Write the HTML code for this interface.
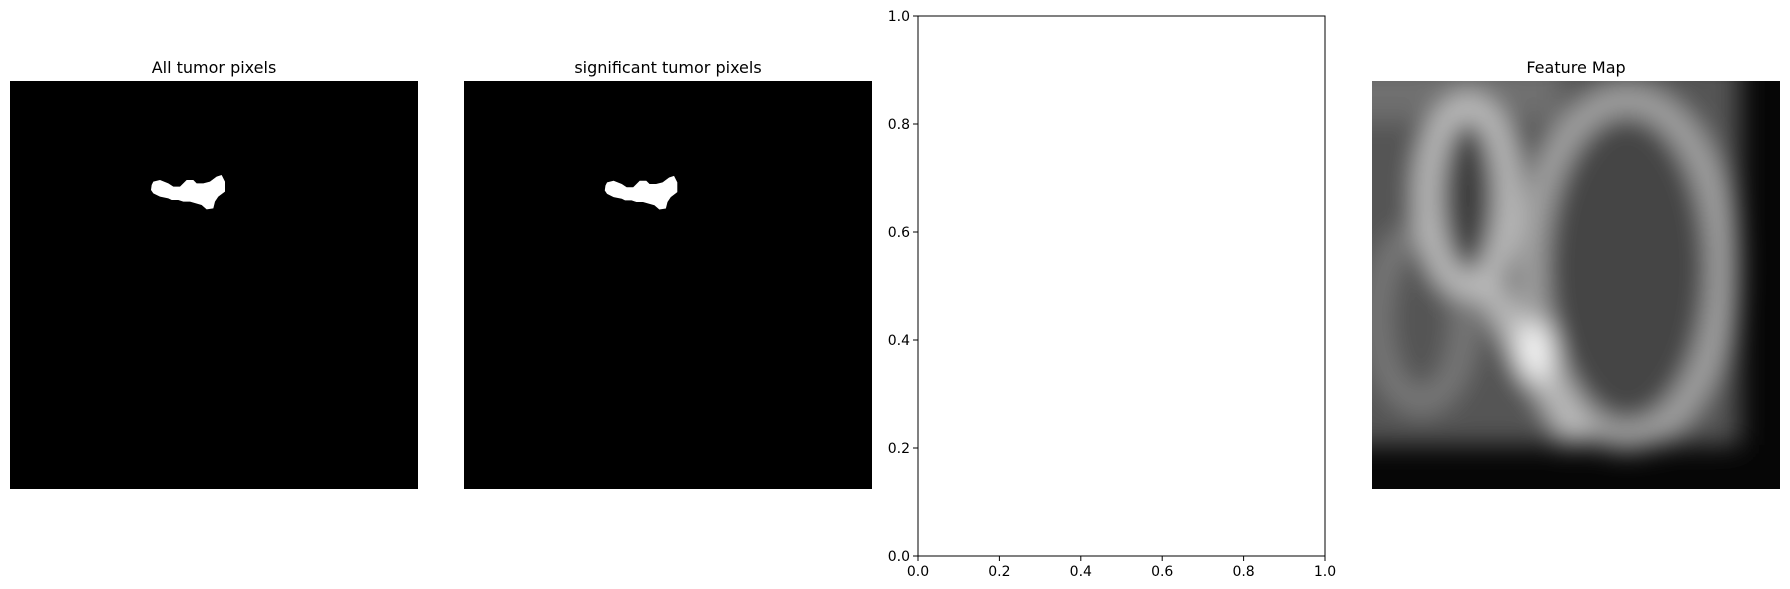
<!DOCTYPE html>
<html><head><meta charset="utf-8">
<style>
body{margin:0;background:#fff;width:1790px;height:589px;overflow:hidden;font-family:"DejaVu Sans","Liberation Sans",sans-serif;}
svg{display:block}
</style></head>
<body>
<svg width="1790" height="589" viewBox="0 0 1790 589">
<defs>
  <filter id="blur" filterUnits="userSpaceOnUse" x="1200" y="0" width="700" height="600"><feGaussianBlur stdDeviation="13"/></filter>
  <clipPath id="fmclip"><rect x="1372" y="81" width="408" height="408"/></clipPath>
  <symbol id="blob" viewBox="0 0 300 165">
    <path d="M35,60 L40,50 L60,45 L85,55 L100,65 L120,65 L140,45 L160,45 L170,55 L190,55 L210,50 L230,35 L245,30 L255,50 L255,80 L235,95 L225,110 L220,130 L200,133 L185,120 L150,110 L130,110 L115,105 L95,105 L85,100 L60,95 L40,85 L33,75 Z" fill="#fff"/>
  </symbol>
</defs>

<g>
  <text x="214" y="73" text-anchor="middle" font-size="16" fill="#000">All tumor pixels</text>
  <rect x="10" y="81" width="408" height="408" fill="#000"/>
  <use href="#blob" x="140" y="165" width="100" height="55"/>
</g>

<g>
  <text x="668" y="73" text-anchor="middle" font-size="16" fill="#000">significant tumor pixels</text>
  <rect x="464" y="81" width="408" height="408" fill="#000"/>
  <use href="#blob" x="594" y="166" width="98" height="54"/>
</g>

<g id="emptyAxes">
  <rect x="918" y="16" width="407" height="540" fill="#fff" stroke="#000" stroke-width="1"/>
</g>

<g>
  <text x="1576" y="73" text-anchor="middle" font-size="16" fill="#000">Feature Map</text>
  <g clip-path="url(#fmclip)">
    <rect x="1372" y="81" width="408" height="408" fill="#060606"/>
    <g filter="url(#blur)">
      <rect x="1340" y="60" width="400" height="385" fill="#555"/>
      <rect x="1340" y="60" width="220" height="60" fill="#707070"/>
      <ellipse cx="1627" cy="268" rx="95" ry="168" fill="#444"/>
      <ellipse cx="1627" cy="268" rx="95" ry="168" fill="none" stroke="#a4a4a4" stroke-width="28"/>
      <ellipse cx="1421" cy="318" rx="44" ry="84" fill="none" stroke="#7c7c7c" stroke-width="24"/>
      <ellipse cx="1468" cy="196" rx="40" ry="90" fill="#3c3c3c"/>
      <ellipse cx="1468" cy="196" rx="40" ry="90" fill="none" stroke="#c4c4c4" stroke-width="24"/>
      <line x1="1478" y1="270" x2="1580" y2="440" stroke="#bdbdbd" stroke-width="28"/>
      <ellipse cx="1535" cy="352" rx="18" ry="30" fill="#f4f4f4"/>
    </g>
  </g>
</g>

<script>
var xTickLabels = ["0.0","0.2","0.4","0.6","0.8","1.0"];
var yTickLabels = ["0.0","0.2","0.4","0.6","0.8","1.0"];
var xTickValues = [0,0.2,0.4,0.6,0.8,1.0];
var yTickValues = [0,0.2,0.4,0.6,0.8,1.0];
(function(){
  var ns="http://www.w3.org/2000/svg";
  var g=document.getElementById('emptyAxes');
  var L=918,R=1325,T=16,B=556;
  function xs(v){return L+v*(R-L);}
  function ys(v){return B-v*(B-T);}
  xTickValues.forEach(function(v,i){
    var x=xs(v);
    var l=document.createElementNS(ns,'line');
    l.setAttribute('x1',x);l.setAttribute('x2',x);l.setAttribute('y1',B);l.setAttribute('y2',B+5);
    l.setAttribute('stroke','#000');
    
    
    g.appendChild(l);
    var t=document.createElementNS(ns,'text');
    t.setAttribute('x',x);t.setAttribute('y',B+20);t.setAttribute('text-anchor','middle');t.setAttribute('font-size','14');
    t.textContent=xTickLabels[i];
    
    
    g.appendChild(t);
  });
  yTickValues.forEach(function(v,i){
    var y=ys(v);
    var l=document.createElementNS(ns,'line');
    l.setAttribute('x1',L-5);l.setAttribute('x2',L);l.setAttribute('y1',y);l.setAttribute('y2',y);
    l.setAttribute('stroke','#000');
    
    
    g.appendChild(l);
    var t=document.createElementNS(ns,'text');
    t.setAttribute('x',L-8);t.setAttribute('y',y+5);t.setAttribute('text-anchor','end');t.setAttribute('font-size','14');
    t.textContent=yTickLabels[i];
    
    
    g.appendChild(t);
  });
})();
</script>
</svg>
</body></html>
